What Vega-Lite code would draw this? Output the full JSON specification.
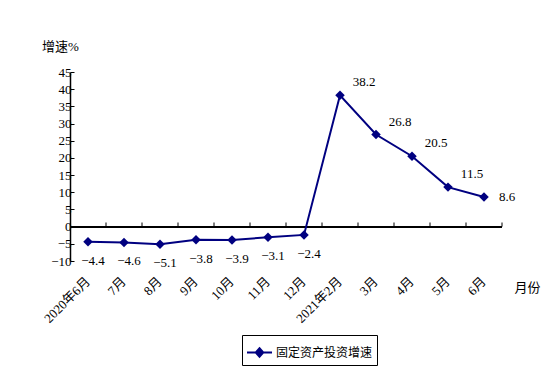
{
  "$schema": "https://vega.github.io/schema/vega-lite/v6.json",
  "autosize": "none",
  "width": 432,
  "height": 189,
  "padding": {"left": 70, "top": 72, "right": 52, "bottom": 124},
  "background": "white",
  "config": {
    "view": {"stroke": null},
    "font": "Liberation Serif",
    "axis": {"labelFont": "Liberation Serif, Noto Sans CJK SC", "titleFont": "Liberation Serif, Noto Sans CJK SC", "labelColor": "black", "titleColor": "black", "domainColor": "black", "tickColor": "black", "grid": false}
  },
  "data": {
    "values": [
      {"month": "2020年6月", "value": -4.4},
      {"month": "7月", "value": -4.6},
      {"month": "8月", "value": -5.1},
      {"month": "9月", "value": -3.8},
      {"month": "10月", "value": -3.9},
      {"month": "11月", "value": -3.1},
      {"month": "12月", "value": -2.4},
      {"month": "2021年2月", "value": 38.2},
      {"month": "3月", "value": 26.8},
      {"month": "4月", "value": 20.5},
      {"month": "5月", "value": 11.5},
      {"month": "6月", "value": 8.6}
    ]
  },
  "encoding": {
    "x": {
      "field": "month", "type": "ordinal", "sort": null,
      "scale": {"paddingInner": 0, "paddingOuter": 0},
      "axis": {
        "domain": false, "ticks": false, "labelAngle": -45, "labelAlign": "right", "labelBaseline": "middle",
        "labelPadding": 18, "labelFontSize": 13,
        "title": "月份", "titleX": 457, "titleY": 26, "titleAlign": "center", "titleBaseline": "middle",
        "titleFontSize": 13, "titleFontWeight": "normal"
      }
    },
    "y": {
      "field": "value", "type": "quantitative",
      "scale": {"domain": [-10, 45], "nice": false, "zero": false},
      "axis": {
        "values": [-10, -5, 0, 5, 10, 15, 20, 25, 30, 35, 40, 45],
        "title": "增速%", "titleAngle": 0, "titleX": -10, "titleY": -26,
        "titleAlign": "center", "titleBaseline": "middle", "titleFontSize": 13, "titleFontWeight": "normal",
        "labelFontSize": 13, "labelPadding": 3, "tickSize": -4, "domainWidth": 1.5
      }
    }
  },
  "layer": [
    {
      "mark": {"type": "rule", "color": "black", "strokeWidth": 1.5},
      "encoding": {"x": null, "y": {"datum": 0, "type": "quantitative"}}
    },
    {
      "mark": {"type": "rule", "color": "black", "strokeWidth": 1},
      "encoding": {
        "x": {"field": "month", "type": "ordinal", "sort": null, "bandPosition": 1},
        "y": {"datum": 0, "type": "quantitative"},
        "y2": {"datum": 1.2}
      }
    },
    {
      "mark": {"type": "line", "strokeWidth": 2},
      "encoding": {
        "color": {
          "datum": "固定资产投资增速", "type": "nominal",
          "scale": {"range": ["#000080"]},
          "legend": {
            "title": null, "orient": "none", "legendX": 172, "legendY": 263,
            "strokeColor": "black", "padding": 4,
            "symbolType": "M-1,0H1M0,-0.34L0.3,0L0,0.34L-0.3,0Z", "symbolSize": 625,
            "labelFont": "Noto Sans CJK SC", "labelFontSize": 12, "labelColor": "black", "labelOffset": 3,
            "encode": {"symbols": {"update": {"fill": {"value": "#000080"}, "stroke": {"value": "#000080"}, "strokeWidth": {"value": 2}}}}
          }
        }
      }
    },
    {
      "mark": {"type": "point", "shape": "diamond", "filled": true, "size": 90, "color": "#000080", "opacity": 1}
    },
    {
      "transform": [{"filter": "datum.value < 0"}],
      "mark": {"type": "text", "dx": 5, "dy": 19, "fontSize": 13, "font": "Liberation Serif", "color": "black"},
      "encoding": {"text": {"field": "value", "type": "quantitative", "format": ".1f"}}
    },
    {
      "transform": [{"filter": "datum.value > 10"}],
      "mark": {"type": "text", "dx": 24, "dy": -13, "fontSize": 13, "font": "Liberation Serif", "color": "black"},
      "encoding": {"text": {"field": "value", "type": "quantitative", "format": ".1f"}}
    },
    {
      "transform": [{"filter": "datum.value > 0 && datum.value < 10"}],
      "mark": {"type": "text", "dx": 23, "dy": 0, "fontSize": 13, "font": "Liberation Serif", "color": "black"},
      "encoding": {"text": {"field": "value", "type": "quantitative", "format": ".1f"}}
    }
  ]
}
